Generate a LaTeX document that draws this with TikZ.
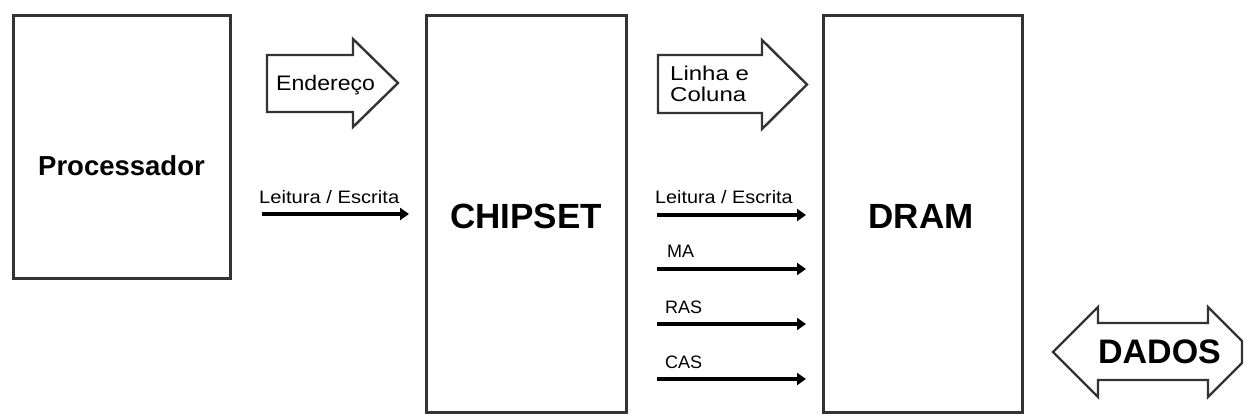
\documentclass[tikz,border=0pt]{standalone}
\usepackage{fontspec}
\setmainfont{Liberation Sans}
\usetikzlibrary{arrows.meta}
\begin{document}
\begin{tikzpicture}[x=1pt,y=-1pt,
  blockbox/.style={draw=black!80,line width=3pt,fill=white,inner sep=0pt},
  bigarrow/.style={draw=black!80,line width=2.4pt,line join=miter,fill=white},
  sig/.style={draw=black,line width=3.6pt,-{Triangle[length=9pt,width=12pt]}},
  small/.style={font=\fontsize{18}{20}\selectfont,inner sep=0pt,anchor=west},
  mid/.style={font=\fontsize{20}{22}\selectfont,inner sep=0pt,align=left,anchor=west},
  title/.style={font=\bfseries\fontsize{35}{38}\selectfont,inner sep=0pt}
]
\useasboundingbox (0,0) rectangle (1244,418);
\fill[white] (0,0) rectangle (1244,418);

% main blocks
\node[blockbox,minimum width=217pt,minimum height=263pt] (proc) at (121.5,146.5) {};
\node[font=\bfseries\fontsize{27.5}{30}\selectfont,inner sep=0pt] (proct) at (121.5,166) {Processador};
\node[blockbox,minimum width=200pt,minimum height=397pt] (chip) at (526,213.5) {};
\node[title] (chipt) at (526,216) {CHIPSET};
\node[blockbox,minimum width=199pt,minimum height=397pt] (dram) at (922.5,213.5) {};
\node[title] (dramt) at (921,216) {DRAM};

% Endereco block arrow
\draw[bigarrow] (267,55) -- (353,55) -- (353,39) -- (398,83) -- (353,127) -- (353,112) -- (267,112) -- cycle;
\node[mid] (end) at (276,85) {\scalebox{1.1}[1]{\fontsize{21}{23}\selectfont Endereço}};

% Linha e Coluna block arrow
\draw[bigarrow] (658,55) -- (762,55) -- (762,40) -- (807,84.5) -- (762,129) -- (762,113) -- (658,113) -- cycle;
\node[mid] (lc) at (670,84) {\scalebox{1.2}[1]{Linha e}\\[-1pt]\scalebox{1.2}[1]{Coluna}};

% Processor -> chipset signal
\coordinate (p1) at (262,214);
\coordinate (p2) at (409,214);
\draw[sig] (p1) -- (p2);
\node[small] (le1) at (259,197) {\scalebox{1.12}[1]{Leitura / Escrita}};

% chipset -> dram signals
\coordinate (a1) at (657,215);  \coordinate (b1) at (806,215);
\coordinate (a2) at (657,269);  \coordinate (b2) at (806,269);
\coordinate (a3) at (657,324);  \coordinate (b3) at (806,324);
\coordinate (a4) at (657,379);  \coordinate (b4) at (806,379);
\draw[sig] (a1) -- (b1);
\draw[sig] (a2) -- (b2);
\draw[sig] (a3) -- (b3);
\draw[sig] (a4) -- (b4);
\node[small] (le2) at (655,197) {\scalebox{1.1}[1]{Leitura / Escrita}};
\node[small] (ma) at (667,251) {MA};
\node[small] (ras) at (665,307) {RAS};
\node[small] (cas) at (665,362) {CAS};

% DADOS double arrow
\draw[bigarrow] (1053,352) -- (1098,307) -- (1098,323) -- (1208,323) -- (1208,307) -- (1242,341) -- (1242,363) -- (1208,397) -- (1208,380) -- (1098,380) -- (1098,397) -- cycle;
\node[title,font=\bfseries\fontsize{34}{36}\selectfont] (dados) at (1159.5,352) {DADOS};
\end{tikzpicture}
\end{document}
